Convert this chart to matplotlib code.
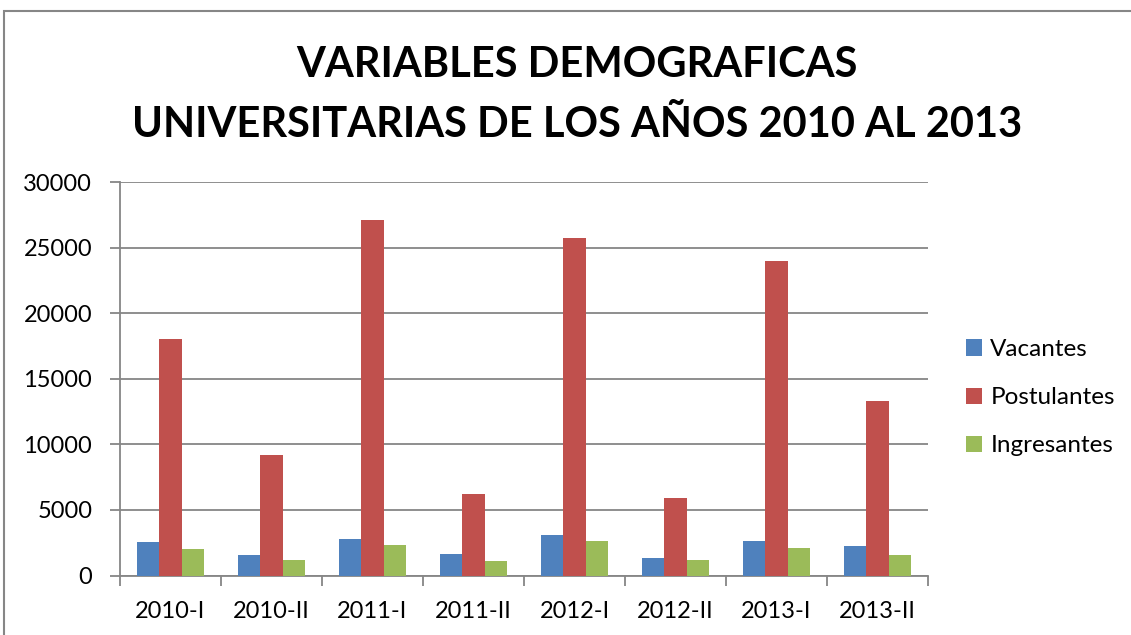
import numpy as np
import matplotlib
matplotlib.use('Agg')
import matplotlib.pyplot as plt
from matplotlib.patches import Rectangle

# データ
periodos = ['2010-I', '2010-II', '2011-I', '2011-II', '2012-I', '2012-II', '2013-I', '2013-II']
vacantes = [2540, 1530, 2750, 1630, 3080, 1370, 2600, 2270]
postulantes = [18050, 9180, 27160, 6200, 25740, 5940, 24010, 13320]
ingresantes = [1990, 1220, 2290, 1090, 2670, 1170, 2110, 1530]
series = ['Vacantes', 'Postulantes', 'Ingresantes']
colores = ['#4F81BD', '#C0504D', '#9BBB59']
y_ticks = [0, 5000, 10000, 15000, 20000, 25000, 30000]

plt.rcParams['font.family'] = ['Lato', 'DejaVu Sans']
grid_color = '#868686'

fig = plt.figure(figsize=(11.31, 6.35), dpi=100)
ax = fig.add_axes([120 / 1131, 1 - 575.5 / 635, 808 / 1131, 393.2 / 635])

# 棒グラフ
x = np.arange(len(periodos))
w = 1 / 4.5
for i, (nombre, valores) in enumerate(zip(series, [vacantes, postulantes, ingresantes])):
    ax.bar(x + (i - 1) * w, valores, width=w, color=colores[i], label=nombre, zorder=3)

ax.set_xlim(-0.5, len(periodos) - 0.5)
ax.set_ylim(0, 30000)
ax.set_yticks(y_ticks)
ax.set_yticklabels([str(v) for v in y_ticks], fontsize=17)
ax.yaxis.grid(True, color=grid_color, linewidth=1.3, zorder=0)

# X軸: ラベルは中央、目盛りは区切り位置
ax.set_xticks(x)
ax.set_xticklabels(periodos, fontsize=17)
ax.set_xticks(np.arange(-0.5, len(periodos)), minor=True)
ax.tick_params(axis='x', which='major', length=0, pad=18)
ax.tick_params(axis='x', which='minor', length=7, color=grid_color, width=1.3)
ax.tick_params(axis='y', length=7, color=grid_color, width=1.3, pad=13)

for s in ['top', 'right']:
    ax.spines[s].set_visible(False)
for s in ['left', 'bottom']:
    ax.spines[s].set_color(grid_color)
    ax.spines[s].set_linewidth(1.3)

ax.legend(loc='center left', bbox_to_anchor=(1.02, 0.452), frameon=False, fontsize=17.5,
          handlelength=0.65, handleheight=0.65, handletextpad=0.35, labelspacing=1.12)

# タイトル
fig.text(0.51, 1 - 95 / 635, 'VARIABLES DEMOGRAFICAS\nUNIVERSITARIAS DE LOS AÑOS 2010 AL 2013',
         ha='center', va='center', fontsize=30, fontweight='bold', linespacing=1.7)

# チャート枠
fig.patches.append(Rectangle((4 / 1131, -0.1), 1.2, 1.1 - 11 / 635, transform=fig.transFigure,
                             fill=False, edgecolor=grid_color, linewidth=1.5))

fig.savefig('out.png', dpi=100)
